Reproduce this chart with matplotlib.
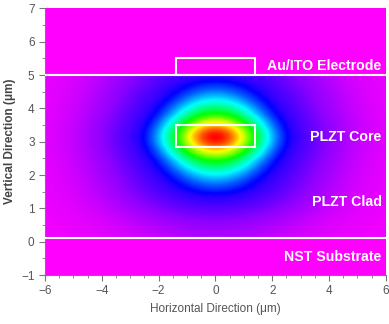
import numpy as np
import matplotlib
matplotlib.use('Agg')
import matplotlib.pyplot as plt
from matplotlib.colors import LinearSegmentedColormap
from matplotlib.patches import Rectangle
from matplotlib.ticker import MultipleLocator

plt.rcParams['font.family'] = ['Liberation Sans', 'DejaVu Sans']

# mode intensity read along the horizontal axis through the core centre
r_pos = [0.0, 0.25, 0.5, 0.75, 1.0, 1.25, 1.5, 1.75, 2.0, 2.25, 2.5, 2.75,
         3.0, 3.5, 4.0, 4.5, 5.0, 5.5, 6.0, 7.0, 8.0, 9.0]
r_prof = [1.0, 0.98, 0.93, 0.85, 0.76, 0.65, 0.54, 0.44, 0.35, 0.27, 0.21, 0.17,
          0.15, 0.12, 0.09, 0.07, 0.05, 0.035, 0.025, 0.015, 0.01, 0.0]
# vertical offset from the centre -> horizontal offset with the same colour
dy_pos = [0.0, 0.35, 0.7, 1.1, 1.59, 2.0, 2.5, 3.2]
dy_equiv = [0.0, 0.75, 1.34, 1.84, 2.4, 3.0, 3.9, 5.0]
centre = (0.0, 3.12)

# layer boundaries and boxes (um)
substrate_top = 0.1
clad_top = 5.0
core_box = (-1.4, 2.85, 2.8, 0.65)
electrode_box = (-1.4, 5.0, 2.8, 0.5)

labels = ['Au/ITO Electrode', 'PLZT Core', 'PLZT Clad', 'NST Substrate']
label_y = [5.26, 3.14, 1.19, -0.46]

xs = np.linspace(-6, 6, 241)
ys = np.linspace(substrate_top, clad_top, 99)
X, Y = np.meshgrid(xs, ys)
R = np.hypot(X - centre[0], np.interp(np.abs(Y - centre[1]), dy_pos, dy_equiv))
field = np.interp(R, r_pos, r_prof)

cmap = LinearSegmentedColormap.from_list(
    'mode', [(0.0, '#ff00ff'), (0.2, '#0000ff'), (0.4, '#00ffff'),
             (0.6, '#00ff00'), (0.8, '#ffff00'), (1.0, '#ff0000')])

fig = plt.figure(figsize=(3.89, 3.24), dpi=100)
ax = fig.add_axes([0.1157, 0.151, 0.8763, 0.823])
ax.set_facecolor('#ff00ff')

ax.imshow(field, cmap=cmap, vmin=0, vmax=1, origin='lower', aspect='auto',
          interpolation='bilinear',
          extent=[xs[0], xs[-1], ys[0], ys[-1]], zorder=1)

ax.axhline(clad_top, color='white', lw=1.5, zorder=3)
ax.axhline(substrate_top, color='white', lw=1.5, zorder=3)
for b in (core_box, electrode_box):
    ax.add_patch(Rectangle(b[:2], b[2], b[3], fill=False, ec='white', lw=1.5, zorder=4))

for t, y in zip(labels, label_y):
    ax.text(5.85, y, t, color='white', fontsize=10.2, fontweight='bold',
            ha='right', va='center', zorder=5)

ax.set_xlim(-6, 6)
ax.set_ylim(-1, 7)
ax.xaxis.set_major_locator(MultipleLocator(2))
ax.xaxis.set_minor_locator(MultipleLocator(0.5))
ax.yaxis.set_major_locator(MultipleLocator(1))
ax.yaxis.set_minor_locator(MultipleLocator(0.5))
ax.tick_params(which='both', direction='out', color='#777777', labelcolor='#555555',
               labelsize=8.5)
ax.tick_params(which='major', length=4)
ax.tick_params(which='minor', length=2.5)
for s in ['top', 'right']:
    ax.spines[s].set_visible(False)
for s in ['left', 'bottom']:
    ax.spines[s].set_color('#777777')

ax.set_xlabel('Horizontal Direction (\u03bcm)', fontsize=8.5, color='#555555', labelpad=4)
ax.set_ylabel('Vertical Direction (\u03bcm)', fontsize=8.5, color='#444444',
              fontweight='bold', labelpad=4)

fig.savefig('out.png', dpi=100)
